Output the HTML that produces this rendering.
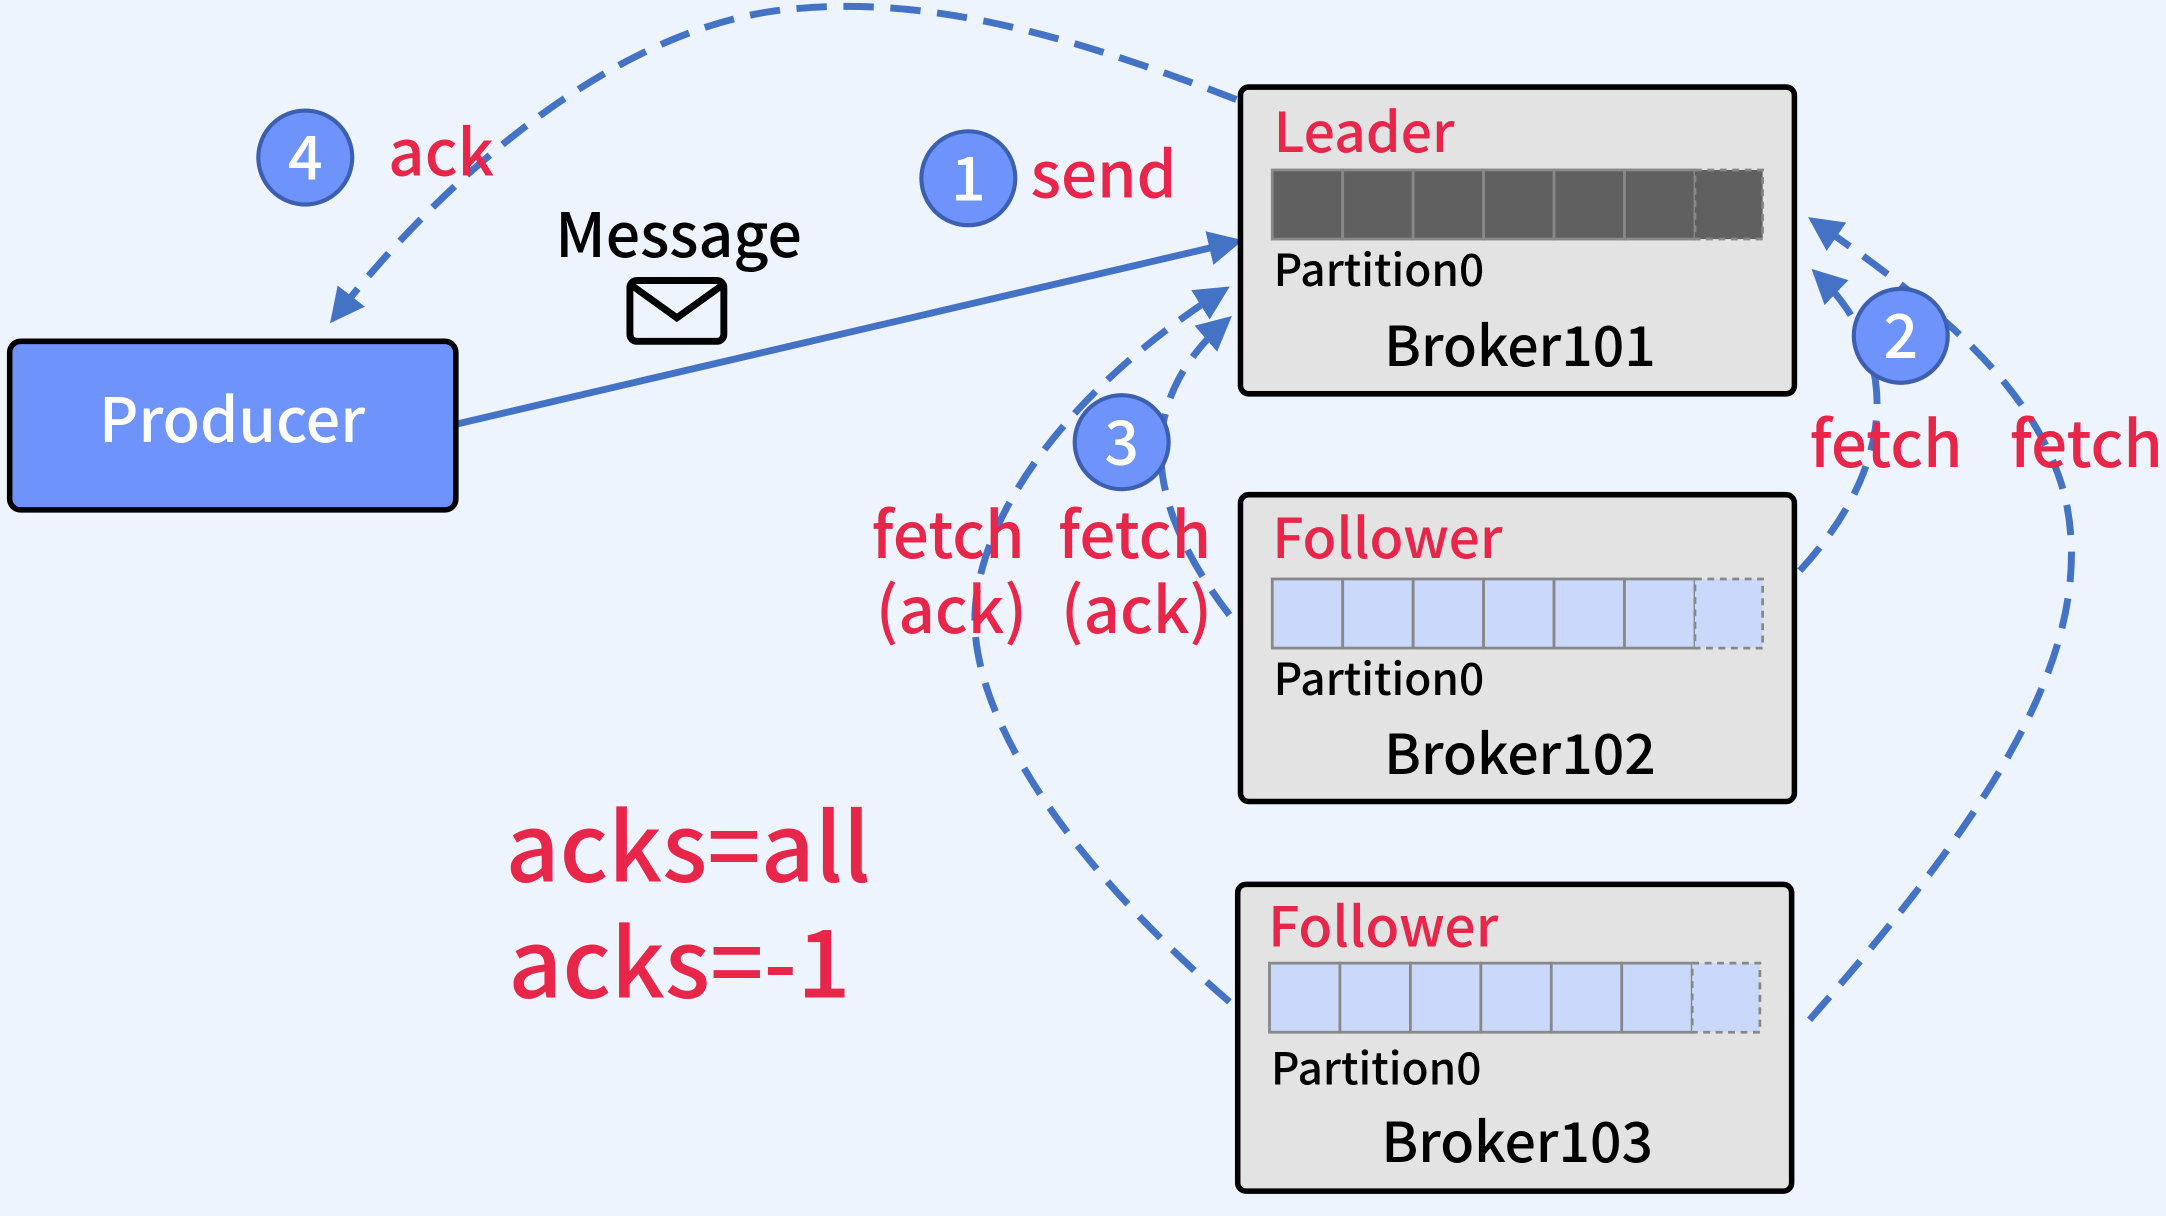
<!DOCTYPE html>
<html><head><meta charset="utf-8"><style>
html,body{margin:0;padding:0;background:#eef4fe;}
svg{display:block;}
text{font-family:"Noto Sans CJK SC","Liberation Sans",sans-serif;font-weight:500;}
</style></head><body>
<svg width="2166" height="1216" viewBox="0 0 1568 880" preserveAspectRatio="none" xmlns="http://www.w3.org/2000/svg">
<defs>
<marker id="a" viewBox="0 0 10 10" refX="8" refY="5" markerWidth="5" markerHeight="5" orient="auto"><path d="M0,0 L10,5 L0,10 z" fill="#4472c4"/></marker>
</defs>
<rect width="1568" height="880" fill="#eef4fe"/>
<g fill="none" stroke="#4472c4" stroke-width="5" stroke-dasharray="22,12">
<path d="M895,72 C760,20 660,-5 560,8 C440,25 320,130 242,230" marker-end="url(#a)"/>
<path d="M1303,413 C1370,340 1380,260 1315,198" marker-end="url(#a)"/>
<path d="M1310,738 C1440,590 1520,470 1495,360 C1475,280 1400,220 1313,160" marker-end="url(#a)"/>
<path d="M890,445 C840,380 810,300 888,232" marker-end="url(#a)"/>
<path d="M890,725 C780,630 700,520 706,440 C712,360 790,270 886,210" marker-end="url(#a)"/>
</g>
<line x1="330" y1="307" x2="895" y2="175" stroke="#4472c4" stroke-width="5" marker-end="url(#a)"/>
<rect x="7" y="247" width="323" height="122" rx="8" fill="#6e93fb" stroke="#000" stroke-width="4"/>
<text x="168" y="320" font-size="44" fill="#fff" text-anchor="middle">Producer</text>
<rect x="898" y="63" width="401" height="222" rx="6" fill="#e3e3e3" stroke="#000" stroke-width="4"/>
<text x="922" y="110" font-size="40" fill="#e8264a">Leader</text>
<g stroke="#888" stroke-width="2" fill="#606060">
<rect x="921" y="123" width="51" height="50"/><rect x="972" y="123" width="51" height="50"/><rect x="1023" y="123" width="51" height="50"/><rect x="1074" y="123" width="51" height="50"/><rect x="1125" y="123" width="51" height="50"/><rect x="1176" y="123" width="51" height="50"/><rect x="1227" y="123" width="49" height="50" stroke-dasharray="5,4"/>
</g>
<text x="922" y="207" font-size="32" fill="#000">Partition0</text>
<text x="1002" y="265" font-size="40" fill="#000">Broker101</text>
<rect x="898" y="358" width="401" height="222" rx="6" fill="#e3e3e3" stroke="#000" stroke-width="4"/>
<text x="921" y="404" font-size="40" fill="#e8264a">Follower</text>
<g stroke="#888" stroke-width="2" fill="#c9d8fb">
<rect x="921" y="419" width="51" height="50"/><rect x="972" y="419" width="51" height="50"/><rect x="1023" y="419" width="51" height="50"/><rect x="1074" y="419" width="51" height="50"/><rect x="1125" y="419" width="51" height="50"/><rect x="1176" y="419" width="51" height="50"/><rect x="1227" y="419" width="49" height="50" stroke-dasharray="5,4"/>
</g>
<text x="922" y="503" font-size="32" fill="#000">Partition0</text>
<text x="1002" y="560" font-size="40" fill="#000">Broker102</text>
<rect x="896" y="640" width="401" height="222" rx="6" fill="#e3e3e3" stroke="#000" stroke-width="4"/>
<text x="918" y="685" font-size="40" fill="#e8264a">Follower</text>
<g stroke="#888" stroke-width="2" fill="#c9d8fb">
<rect x="919" y="697" width="51" height="50"/><rect x="970" y="697" width="51" height="50"/><rect x="1021" y="697" width="51" height="50"/><rect x="1072" y="697" width="51" height="50"/><rect x="1123" y="697" width="51" height="50"/><rect x="1174" y="697" width="51" height="50"/><rect x="1225" y="697" width="49" height="50" stroke-dasharray="5,4"/>
</g>
<text x="920" y="785" font-size="32" fill="#000">Partition0</text>
<text x="1000" y="841" font-size="40" fill="#000">Broker103</text>
<g fill="#6e93fb" stroke="#3c5fb0" stroke-width="3">
<circle cx="221" cy="114" r="34"/><circle cx="701" cy="129" r="34"/><circle cx="1376" cy="243" r="34"/><circle cx="812" cy="320" r="34"/>
</g>
<g font-size="44" fill="#fff" text-anchor="middle">
<text x="221" y="130">4</text><text x="701" y="145">1</text><text x="1376" y="259">2</text><text x="812" y="336">3</text>
</g>
<g fill="#e8264a" font-size="46">
<text x="281" y="127">ack</text>
<text x="746" y="143">send</text>
<text x="1310" y="338">fetch</text>
<text x="1455" y="338">fetch</text>
<text x="631" y="404">fetch</text>
<text x="634" y="458">(ack)</text>
<text x="766" y="404">fetch</text>
<text x="768" y="458">(ack)</text>
<text x="366" y="638" font-size="68">acks=all</text>
<text x="368" y="722" font-size="68">acks=-1</text>
</g>
<text x="402" y="186" font-size="44" fill="#000">Message</text>
<rect x="456" y="203" width="68" height="44" rx="5" fill="none" stroke="#000" stroke-width="5"/>
<path d="M458,207 L490,230 L522,207" fill="none" stroke="#000" stroke-width="5"/>
</svg>
</body></html>
